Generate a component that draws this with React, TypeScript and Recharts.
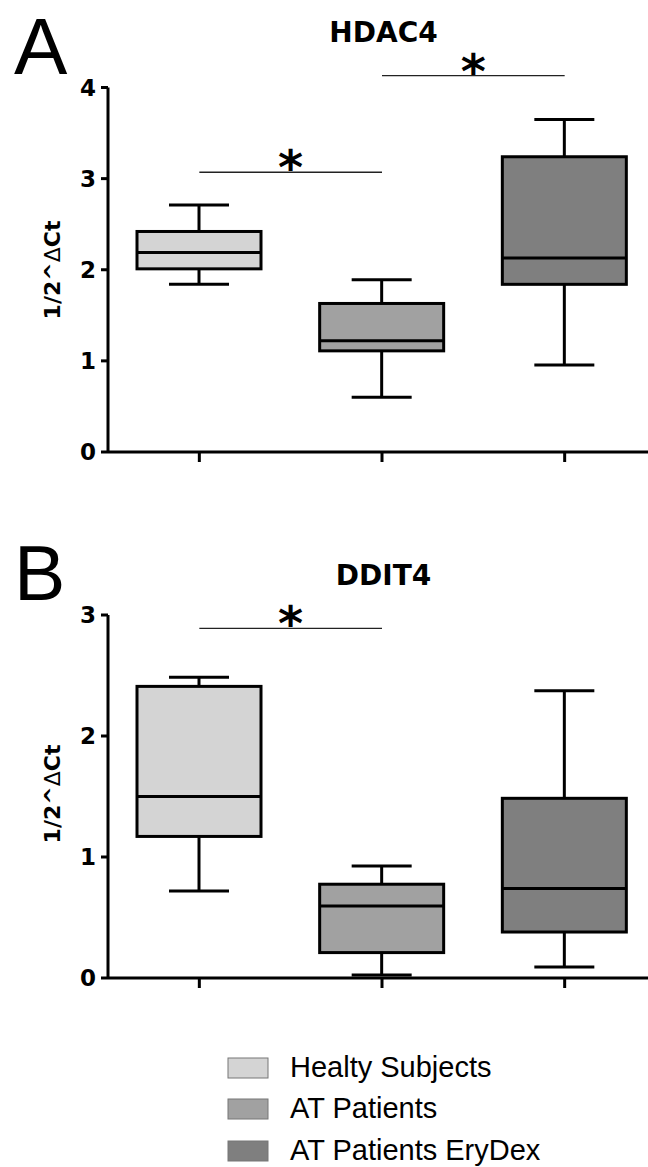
import React from "react";
import {
  ComposedChart,
  Bar,
  XAxis,
  YAxis,
  ReferenceLine,
  ReferenceDot,
} from "recharts";

// groups (x slots 1..3)
const groups = ["Healty Subjects", "AT Patients", "AT Patients EryDex"];
const groupSlots = [1, 2, 3];

// HDAC4 box stats
const hdac4Min = [1.84, 0.6, 0.955];
const hdac4Q1 = [2.01, 1.11, 1.84];
const hdac4Median = [2.19, 1.22, 2.13];
const hdac4Q3 = [2.42, 1.63, 3.24];
const hdac4Max = [2.71, 1.89, 3.65];

// DDIT4 box stats
const ddit4Min = [0.72, 0.025, 0.09];
const ddit4Q1 = [1.17, 0.21, 0.38];
const ddit4Median = [1.5, 0.595, 0.74];
const ddit4Q3 = [2.41, 0.775, 1.485];
const ddit4Max = [2.485, 0.925, 2.375];

// significance bars: [from slot, to slot, height]
const hdac4Sig = [
  [1, 2, 3.07],
  [2, 3, 4.13],
];
const ddit4Sig = [[1, 2, 2.89]];

const hdac4Ticks = [0, 1, 2, 3, 4];
const ddit4Ticks = [0, 1, 2, 3];

const FILLS = ["#d4d4d4", "#a1a1a1", "#7f7f7f"];
const BOLD = "'DejaVu Sans', sans-serif";
const ARIAL = "'Liberation Sans', Arial, sans-serif";

const buildRows = (mins, q1s, meds, q3s, maxs) =>
  groups.map((g, i) => ({
    name: g,
    slot: groupSlots[i],
    min: mins[i],
    q1: q1s[i],
    median: meds[i],
    q3: q3s[i],
    max: maxs[i],
  }));

const hdac4Data = buildRows(hdac4Min, hdac4Q1, hdac4Median, hdac4Q3, hdac4Max);
const ddit4Data = buildRows(ddit4Min, ddit4Q1, ddit4Median, ddit4Q3, ddit4Max);

// draws a whole box + whiskers inside the min..max bar rect
const BoxShape = (props: any) => {
  const { x, y, width, height, payload, index } = props;
  const top = Math.min(y, y + height);
  const bottom = Math.max(y, y + height);
  const ppu = (bottom - top) / (payload.max - payload.min);
  const py = (v: number) => bottom - (v - payload.min) * ppu;
  const cx = x + width / 2;
  const cap = 30;
  return (
    <g stroke="#000" strokeWidth={3}>
      <line x1={cx} x2={cx} y1={py(payload.max)} y2={py(payload.q3)} />
      <line x1={cx - cap} x2={cx + cap} y1={py(payload.max)} y2={py(payload.max)} />
      <line x1={cx} x2={cx} y1={py(payload.q1)} y2={py(payload.min)} />
      <line x1={cx - cap} x2={cx + cap} y1={py(payload.min)} y2={py(payload.min)} />
      <rect
        x={x}
        y={py(payload.q3)}
        width={width}
        height={py(payload.q1) - py(payload.q3)}
        fill={FILLS[index]}
      />
      <line x1={x} x2={x + width} y1={py(payload.median)} y2={py(payload.median)} />
    </g>
  );
};

const Star = (props: any) => (
  <text
    x={props.cx}
    y={props.cy + 12}
    textAnchor="middle"
    fontFamily={BOLD}
    fontWeight="bold"
    fontSize={48}
    fill="#000"
  >
    *
  </text>
);

function BoxPanel({ data, ticks, sig, top, marginTop, marginBottom }: any) {
  const yMax = ticks[ticks.length - 1];
  return (
    <div style={{ position: "absolute", left: 0, top }}>
      <ComposedChart
        width={660}
        height={500}
        data={data}
        margin={{ top: marginTop, right: 4, bottom: marginBottom, left: 18 }}
      >
        <XAxis
          dataKey="slot"
          type="number"
          domain={[0.5, 3.5]}
          ticks={groupSlots}
          tickFormatter={() => ""}
          axisLine={{ stroke: "#000", strokeWidth: 3 }}
          tickLine={{ stroke: "#000", strokeWidth: 3 }}
          tickSize={10}
          height={30}
        />
        <YAxis
          type="number"
          domain={[0, yMax]}
          ticks={ticks}
          width={90}
          axisLine={{ stroke: "#000", strokeWidth: 3 }}
          tickLine={{ stroke: "#000", strokeWidth: 3 }}
          tickSize={7}
          tickMargin={5}
          tick={{ fill: "#000", fontFamily: BOLD, fontWeight: "bold", fontSize: 23 }}
        />
        <Bar
          dataKey={(d: any) => [d.min, d.max]}
          barSize={124}
          shape={BoxShape}
          isAnimationActive={false}
        />
        {sig.map(([a, b, h]: number[], i: number) => (
          <ReferenceLine
            key={"l" + i}
            segment={[
              { x: a, y: h },
              { x: b, y: h },
            ]}
            stroke="#222"
            strokeWidth={1.3}
            ifOverflow="visible"
          />
        ))}
        {sig.map(([a, b, h]: number[], i: number) => (
          <ReferenceDot
            key={"s" + i}
            x={(a + b) / 2}
            y={h}
            r={0}
            shape={Star}
            ifOverflow="visible"
          />
        ))}
      </ComposedChart>
    </div>
  );
}

export default function App() {
  const legendRows = [1058, 1099, 1141];
  return (
    <div
      style={{
        position: "absolute",
        left: 0,
        top: 0,
        width: 648,
        height: 1167,
        overflow: "hidden",
        background: "#fff",
      }}
    >
      <BoxPanel data={hdac4Data} ticks={hdac4Ticks} sig={hdac4Sig} top={0} marginTop={87.5} marginBottom={18} />
      <BoxPanel data={ddit4Data} ticks={ddit4Ticks} sig={ddit4Sig} top={540} marginTop={75} marginBottom={32} />
      <svg
        width={648}
        height={1167}
        style={{ position: "absolute", left: 0, top: 0, pointerEvents: "none" }}
      >
        <text x={14} y={74} fontFamily={ARIAL} fontSize={80} fill="#000">A</text>
        <text x={14} y={600} fontFamily={ARIAL} fontSize={77} fill="#000">B</text>
        <text x={383.5} y={42} textAnchor="middle" fontFamily={BOLD} fontWeight="bold" fontSize={28}>HDAC4</text>
        <text x={383.5} y={585} textAnchor="middle" fontFamily={BOLD} fontWeight="bold" fontSize={28}>DDIT4</text>
        {[270, 794].map((cy) => (
          <text
            key={cy}
            x={60}
            y={cy}
            transform={`rotate(-90 60 ${cy})`}
            textAnchor="middle"
            fontFamily={BOLD}
            fontWeight="bold"
            fontSize={22}
          >
            1/2^<tspan fontWeight="normal">Δ</tspan>Ct
          </text>
        ))}
        {groups.map((g, i) => (
          <g key={g}>
            <rect x={228} y={legendRows[i]} width={40} height={20} fill={FILLS[i]} stroke="#777" strokeWidth={1} />
            <text x={290} y={legendRows[i] + 19} fontFamily={ARIAL} fontSize={29} fill="#000">
              {g}
            </text>
          </g>
        ))}
      </svg>
    </div>
  );
}
